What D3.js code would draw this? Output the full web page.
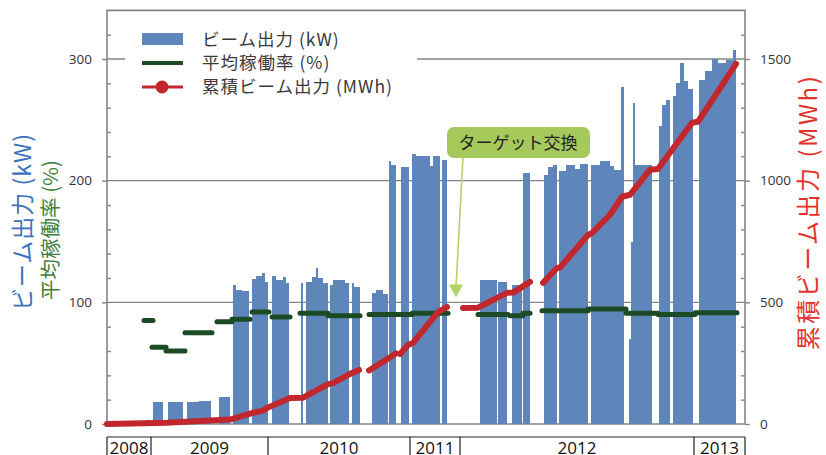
<!DOCTYPE html>
<html>
<head>
<meta charset="utf-8">
<script src="https://cdn.jsdelivr.net/npm/d3@7"></script>
<style>
body { margin: 0; background: #fff; }
svg { display: block; }
</style>
</head>
<body>
<svg width="826" height="455"></svg>
<script>
var svg = d3.select('svg');

// x is an operation-period index (0 = start of 2008 run)
var xMax = 638;
var yearNames = ['2008', '2009', '2010', '2011', '2012', '2013'];
var yearBreaks = [0, 44, 161, 303, 353, 587, 638];

// beam power blocks: [start, end, kW]
var beamPower = [
  [39,42,3],
  [46,56,18],
  [61,76,18],
  [80,92,18],[92,104,19],
  [112,123,22],
  [126,129,114],[129,135,110],[135,142,109],
  [145,149,119],[149,155,122],[155,158,124],[158,161,117],
  [165,169,122],[169,176,118],[176,179,121],[179,182,116],
  [194,196,116],
  [199,205,117],[205,209,121],[209,211,128],[211,216,120],[216,221,116],
  [223,226,114],[226,238,118],[238,242,116],
  [245,247,116],[247,253,113],
  [265,269,108],[269,276,110],[276,281,107],
  [282,284,216],[284,289,213],
  [294,302,211],
  [305,309,222],[309,323,220],[323,326,212],[326,333,220],
  [335,340,217],
  [373,390,118],
  [391,400,117],
  [405,415,114],
  [416,423,206],
  [437,441,205],[441,446,211],[446,450,213],
  [452,459,208],[459,468,213],[468,473,210],[473,481,214],
  [484,493,213],[493,503,216],[503,507,212],[507,514,209],
  [514,517,277],
  [522,524,70],[524,526,150],[526,528,264],[528,545,213],
  [552,555,245],[555,559,262],[559,563,266],
  [566,569,270],[569,573,280],[573,577,297],[577,581,282],[581,586,275],
  [592,598,283],[598,605,290],[605,611,300],[611,619,297],[619,626,299],[626,629,307]
];

// average operating rate: [start, end, %]
var opRate = [
  [37,46,85],[45,59,63],[59,78,60],[78,105,75],[110,125,84],[125,143,86],
  [145,162,92],[165,183,88],[193,221,91],[221,253,89],[262,290,90],[292,305,90],
  [305,341,91],[371,401,90],[403,416,89],[416,423,91],[435,481,93],[481,519,94.5],
  [519,551,91],[551,588,90],[588,630,91.5]
];

// cumulative beam output (MWh), runs separated by breaks
var cumOutput = [
  [[0,0],[36,3],[60,5],[93,12],[123,18],[145,45],[156,55],[161,68],[168,80],[183,107],[196,108],[221,164],[226,168],[243,206],[252,222]],
  [[262,220],[289,290]],
  [[293,288],[301,325],[306,333],[331,460],[340,481]],
  [[356,477],[371,478],[390,518],[400,539],[406,540],[423,584]],
  [[436,580],[450,641],[453,643],[481,777],[485,785],[503,860],[515,934],[523,942],[543,1045],[551,1048],[585,1238],[591,1242],[601,1304],[629,1480]]
];

var leftTicks = [0, 100, 200, 300];
var rightTicks = [0, 500, 1000, 1500];
var targetSwap = {x: 349, kW: 104, label: 'ターゲット交換', boxX: 411, boxKW: 231};

var jp = '"Noto Sans CJK JP", "Noto Sans", sans-serif';
var num = '"Open Sans", "Liberation Sans", sans-serif';

var x = d3.scaleLinear().domain([0, xMax]).range([107, 745]);
var yL = d3.scaleLinear().domain([0, 300]).range([424, 59]);
var yR = d3.scaleLinear().domain([0, 1500]).range([424, 59]);
var yTop = yL(340);

var frameColor = '#858585';

// gridlines
svg.append('g').selectAll('line')
  .data(leftTicks)
  .enter().append('line')
  .attr('x1', x(0)).attr('x2', x(xMax))
  .attr('y1', function(d) { return yL(d); })
  .attr('y2', function(d) { return yL(d); })
  .attr('stroke', frameColor)
  .attr('stroke-width', 1.4);

// legend backdrop hides the 300 gridline
svg.append('rect')
  .attr('x', 125).attr('y', 22).attr('width', 292).attr('height', 80)
  .attr('fill', '#fff');

// bars: join touching blocks into one stepped shape so there are no seams
var runs = [];
beamPower.forEach(function(d) {
  var last = runs[runs.length - 1];
  if (last && last[last.length - 1][0] === d[0]) {
    last.push([d[1], d[2]]);
  } else {
    runs.push([[d[0], d[2]], [d[1], d[2]]]);
  }
});

var area = d3.area()
  .curve(d3.curveStepBefore)
  .x(function(d) { return x(d[0]); })
  .y0(yL(0))
  .y1(function(d) { return yL(d[1]); });

svg.append('g').selectAll('path')
  .data(runs)
  .enter().append('path')
  .attr('d', area)
  .attr('fill', '#5e86bb')
  .attr('shape-rendering', 'crispEdges');

// frame
svg.append('path')
  .attr('d', 'M' + x(0) + ',' + yL(0) + 'V' + yTop + 'H' + x(xMax) + 'V' + yL(0))
  .attr('fill', 'none')
  .attr('stroke', frameColor)
  .attr('stroke-width', 1.6);

// left axis
var axL = svg.append('g')
  .attr('transform', 'translate(' + x(0) + ',0)')
  .call(d3.axisLeft(yL).tickValues(leftTicks).tickSize(5).tickPadding(10));
var axLminor = svg.append('g')
  .attr('transform', 'translate(' + x(0) + ',0)')
  .call(d3.axisLeft(yL).tickValues(d3.range(20, 340, 20).filter(function(v) { return v % 100; }))
    .tickSize(-4).tickFormat(''));

// right axis
var axR = svg.append('g')
  .attr('transform', 'translate(' + x(xMax) + ',0)')
  .call(d3.axisRight(yR).tickValues(rightTicks).tickSize(5).tickPadding(10).tickFormat(d3.format('d')));
var axRminor = svg.append('g')
  .attr('transform', 'translate(' + x(xMax) + ',0)')
  .call(d3.axisRight(yR).tickValues(d3.range(100, 1700, 100).filter(function(v) { return v % 500; }))
    .tickSize(-4).tickFormat(''));

[axL, axLminor, axR, axRminor].forEach(function(g) {
  g.select('.domain').remove();
  g.selectAll('line').attr('stroke', frameColor).attr('stroke-width', 1.4);
  g.selectAll('text').attr('fill', '#333').style('font-family', num).style('font-size', '13.5px');
});

// operating rate
svg.append('g').selectAll('line')
  .data(opRate)
  .enter().append('line')
  .attr('x1', function(d) { return x(d[0]); })
  .attr('x2', function(d) { return x(d[1]); })
  .attr('y1', function(d) { return yL(d[2]); })
  .attr('y2', function(d) { return yL(d[2]); })
  .attr('stroke', '#1b4a24')
  .attr('stroke-width', 5)
  .attr('stroke-linecap', 'round');

// cumulative output
var line = d3.line()
  .x(function(d) { return x(d[0]); })
  .y(function(d) { return yR(d[1]); });

svg.append('g').selectAll('path')
  .data(cumOutput)
  .enter().append('path')
  .attr('d', line)
  .attr('fill', 'none')
  .attr('stroke', '#c1272d')
  .attr('stroke-width', 6)
  .attr('stroke-linecap', 'round')
  .attr('stroke-linejoin', 'round');

// year strip
var yb = 437;
svg.append('line')
  .attr('x1', x(0)).attr('x2', x(xMax)).attr('y1', yb).attr('y2', yb)
  .attr('stroke', '#222').attr('stroke-width', 1.2);
svg.append('g').selectAll('line')
  .data(yearBreaks)
  .enter().append('line')
  .attr('x1', function(d) { return x(d); })
  .attr('x2', function(d) { return x(d); })
  .attr('y1', yb).attr('y2', 460)
  .attr('stroke', '#222').attr('stroke-width', 1.2);
svg.append('g').selectAll('text')
  .data(yearNames)
  .enter().append('text')
  .attr('x', function(d, i) { return (x(yearBreaks[i]) + x(yearBreaks[i + 1])) / 2; })
  .attr('y', 454)
  .attr('text-anchor', 'middle')
  .style('font-family', num)
  .style('font-size', '17px')
  .attr('fill', '#111')
  .text(function(d) { return d; });

// annotation
var bx = x(targetSwap.boxX), by = yL(targetSwap.boxKW);
svg.append('line')
  .attr('x1', bx - 55).attr('y1', by + 14)
  .attr('x2', x(targetSwap.x)).attr('y2', yL(targetSwap.kW) - 10)
  .attr('stroke', '#b3d467').attr('stroke-width', 1.6);
var tipX = x(targetSwap.x), tipY = yL(targetSwap.kW);
svg.append('path')
  .attr('d', 'M' + tipX + ',' + tipY + 'L' + (tipX - 7) + ',' + (tipY - 13) + 'L' + (tipX + 7) + ',' + (tipY - 13) + 'Z')
  .attr('fill', '#b3d467');
svg.append('rect')
  .attr('x', bx - 71).attr('y', by - 16).attr('width', 143).attr('height', 31)
  .attr('rx', 7)
  .attr('fill', '#a6c95b');
svg.append('text')
  .attr('x', bx).attr('y', by)
  .attr('dy', '0.35em')
  .attr('text-anchor', 'middle')
  .style('font-family', jp).style('font-size', '17px')
  .attr('fill', '#222')
  .text(targetSwap.label);

// legend
var legend = svg.append('g');
legend.append('rect')
  .attr('x', 142).attr('y', 33).attr('width', 41).attr('height', 12)
  .attr('fill', '#5e86bb');
legend.append('line')
  .attr('x1', 142).attr('x2', 183).attr('y1', 63).attr('y2', 63)
  .attr('stroke', '#1b4a24').attr('stroke-width', 4);
legend.append('line')
  .attr('x1', 142).attr('x2', 183).attr('y1', 87).attr('y2', 87)
  .attr('stroke', '#c1272d').attr('stroke-width', 3);
legend.append('circle')
  .attr('cx', 162).attr('cy', 87).attr('r', 6.5)
  .attr('fill', '#c1272d');
legend.selectAll('text')
  .data(['ビーム出力 (kW)', '平均稼働率 (%)', '累積ビーム出力 (MWh)'])
  .enter().append('text')
  .attr('x', 202)
  .attr('y', function(d, i) { return [40, 63, 87][i]; })
  .attr('dy', '0.35em')
  .style('font-family', jp).style('font-size', '17.5px')
  .style('letter-spacing', '1px')
  .attr('fill', '#3a3a3a')
  .text(function(d) { return d; });

// axis titles
svg.append('text')
  .attr('transform', 'translate(23,222) rotate(-90)')
  .attr('text-anchor', 'middle').attr('dy', '0.35em')
  .style('font-family', jp).style('font-size', '23px')
  .style('letter-spacing', '1px')
  .attr('fill', '#3a72bd')
  .text('ビーム出力 (kW)');
svg.append('text')
  .attr('transform', 'translate(51,230) rotate(-90)')
  .attr('text-anchor', 'middle').attr('dy', '0.35em')
  .style('font-family', jp).style('font-size', '20.5px')
  .attr('fill', '#3d7f3a')
  .text('平均稼働率 (%)');
svg.append('text')
  .attr('transform', 'translate(809,212) rotate(-90)')
  .attr('text-anchor', 'middle').attr('dy', '0.35em')
  .style('font-family', jp).style('font-size', '24px')
  .style('letter-spacing', '2.5px')
  .attr('fill', '#e3322b')
  .text('累積ビーム出力 (MWh)');
</script>
</body>
</html>
